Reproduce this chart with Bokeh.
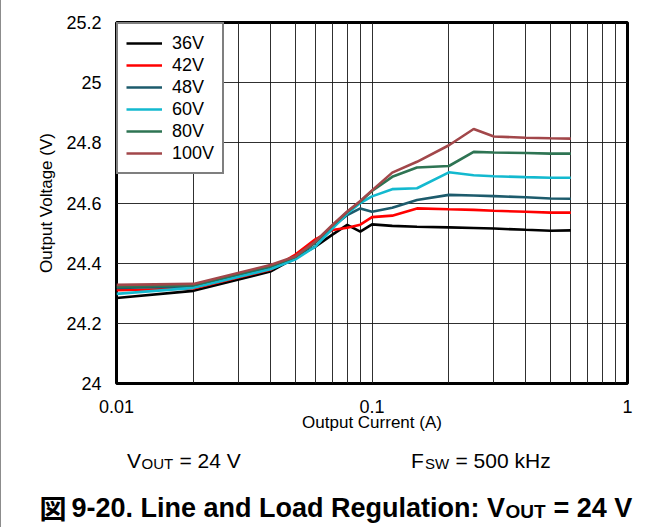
from bokeh.plotting import figure
from bokeh.models import Range1d, FixedTicker, Legend, LegendItem, Label
from bokeh.layouts import column
from bokeh.embed import file_html
from bokeh.resources import INLINE

# ---- data ----
current_a = [0.01, 0.02, 0.04, 0.05, 0.06, 0.07, 0.08, 0.09, 0.1, 0.12,
             0.15, 0.2, 0.25, 0.3, 0.4, 0.5, 0.6]
v_36 = [24.284, 24.308, 24.372, 24.418, 24.455, 24.495, 24.527, 24.505, 24.529,
        24.524, 24.521, 24.519, 24.517, 24.515, 24.511, 24.508, 24.509]
v_42 = [24.310, 24.316, 24.378, 24.428, 24.479, 24.510, 24.518, 24.528, 24.553,
        24.558, 24.582, 24.579, 24.577, 24.574, 24.571, 24.568, 24.568]
v_48 = [24.318, 24.323, 24.385, 24.420, 24.468, 24.520, 24.560, 24.582, 24.571,
        24.584, 24.610, 24.627, 24.625, 24.623, 24.619, 24.615, 24.614]
v_60 = [24.298, 24.318, 24.380, 24.412, 24.455, 24.515, 24.565, 24.600, 24.622,
        24.646, 24.649, 24.702, 24.692, 24.689, 24.686, 24.684, 24.684]
v_80 = [24.322, 24.327, 24.390, 24.420, 24.470, 24.525, 24.570, 24.605, 24.640,
        24.687, 24.718, 24.723, 24.770, 24.768, 24.766, 24.764, 24.764]
v_100 = [24.328, 24.331, 24.394, 24.422, 24.472, 24.527, 24.572, 24.607, 24.642,
         24.701, 24.737, 24.792, 24.846, 24.821, 24.817, 24.815, 24.814]

series_names = ["36V", "42V", "48V", "60V", "80V", "100V"]
series_values = [v_36, v_42, v_48, v_60, v_80, v_100]
series_colors = ["#000000", "#ff0000", "#1d5b6c", "#13b9cf", "#2e7453", "#a2474a"]

x_ticks = [0.01, 0.1, 1]
x_tick_labels = ["0.01", "0.1", "1"]
x_grid = [0.02, 0.03, 0.04, 0.05, 0.06, 0.07, 0.08, 0.09, 0.1,
          0.2, 0.3, 0.4, 0.5, 0.6, 0.7, 0.8, 0.9]
y_ticks = [24.0, 24.2, 24.4, 24.6, 24.8, 25.0, 25.2]
y_tick_labels = ["24", "24.2", "24.4", "24.6", "24.8", "25", "25.2"]
y_grid = [24.2, 24.4, 24.6, 24.8, 25.0]

FONT = "Liberation Sans"
W = 662   # 1px of the page width goes to the left rule

# ---- main chart ----
p = figure(width=W, height=440, x_axis_type="log",
           x_range=Range1d(0.01, 1), y_range=Range1d(24.0, 25.2),
           output_backend="svg", toolbar_location=None,
           min_border_left=115, min_border_right=36,
           min_border_top=22, min_border_bottom=57)
p.frame_align = False
p.background_fill_color = "white"
p.border_fill_color = "white"
p.outline_line_color = "black"
p.outline_line_width = 3

p.xgrid.ticker = FixedTicker(ticks=x_grid)
p.ygrid.ticker = FixedTicker(ticks=y_grid)
for g in (p.xgrid, p.ygrid):
    g.grid_line_color = "#1a1a1a"
    g.grid_line_width = 1
    g.grid_line_alpha = 0.9

p.xaxis.ticker = FixedTicker(ticks=x_ticks)
p.xaxis.major_label_overrides = {t: l for t, l in zip(x_ticks, x_tick_labels)}
p.yaxis.ticker = FixedTicker(ticks=y_ticks)
p.yaxis.major_label_overrides = {t: l for t, l in zip(y_ticks, y_tick_labels)}
p.xaxis.axis_label = "Output Current (A)"
p.yaxis.axis_label = "Output Voltage (V)"
for ax in (p.xaxis, p.yaxis):
    ax.axis_line_color = None
    ax.major_tick_line_color = None
    ax.minor_tick_line_color = None
    ax.major_label_text_font = FONT
    ax.major_label_text_font_size = "18px"
    ax.major_label_text_color = "black"
    ax.axis_label_text_font = FONT
    ax.axis_label_text_font_size = "17px"
    ax.axis_label_text_font_style = "normal"
    ax.axis_label_text_color = "black"
p.xaxis.major_label_standoff = 10
p.xaxis.axis_label_standoff = -3
p.yaxis.major_label_standoff = 9
p.yaxis.axis_label_standoff = 7

items = []
for name, vals, col in zip(series_names, series_values, series_colors):
    r = p.line(current_a, vals, line_color=col, line_width=2.6)
    items.append(LegendItem(label=name, renderers=[r]))

legend = Legend(items=items, location="top_left", margin=0, padding=8,
                spacing=0, glyph_width=36, glyph_height=22, label_height=22,
                label_standoff=10, label_text_font=FONT,
                label_text_font_size="18px", label_text_color="black",
                border_line_color="black", border_line_width=2,
                background_fill_color="white", background_fill_alpha=1.0)
p.add_layout(legend, "center")

# ---- notes and caption below the chart ----
H2 = 87
p2 = figure(width=W, height=H2, x_range=Range1d(0, W), y_range=Range1d(0, H2),
            output_backend="svg", toolbar_location=None,
            min_border=0, min_border_left=0, min_border_right=0,
            min_border_top=0, min_border_bottom=0)
p2.frame_align = False
p2.axis.visible = False
p2.grid.visible = False
p2.outline_line_color = None
p2.background_fill_color = "white"
p2.border_fill_color = "white"


def add_label(x, y, text, size, bold=False, font=FONT):
    p2.add_layout(Label(x=x, y=y, text=text,
                        text_font=font, text_font_size=size,
                        text_font_style="bold" if bold else "normal",
                        text_color="black", text_baseline="alphabetic",
                        text_align="left"))


add_label(125.5, 67, "V", "21px")
add_label(140, 64, "OUT", "15px")
add_label(178, 67, "= 24 V", "21px")

add_label(409.5, 67, "F", "21px")
add_label(423.5, 64, "SW", "15px")
add_label(454, 67, "= 500 kHz", "21px")

add_label(38, 20, "図", "27px", bold=True, font="Noto Sans CJK JP")
add_label(70, 20, "9-20. Line and Load Regulation: V", "27px", bold=True)
add_label(504, 16, "OUT", "19px", bold=True)
add_label(552, 20, "= 24 V", "27px", bold=True)

layout = column(p, p2, spacing=0,
                styles={"border-left": "1px solid #8c8c8c"})
open("out.html", "w").write(file_html(layout, INLINE))
